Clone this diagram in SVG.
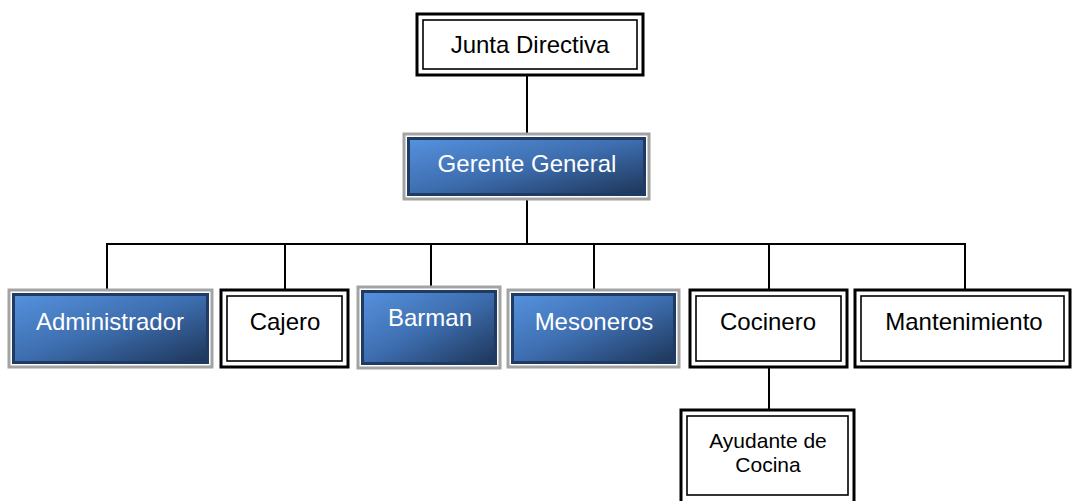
<svg xmlns="http://www.w3.org/2000/svg" width="1073" height="501" viewBox="0 0 1073 501">
<defs>
<linearGradient id="blue" x1="0" y1="0" x2="1" y2="1">
<stop offset="0" stop-color="#5692de"/>
<stop offset="0.5" stop-color="#3d6dae"/>
<stop offset="1" stop-color="#1d3558"/>
</linearGradient>
<style>
.out{fill:#fff;stroke:#000;stroke-width:3}
.in{fill:none;stroke:#000;stroke-width:1.6}
.gout{fill:#fff;stroke:#a3a3a3;stroke-width:3}
.gin{fill:url(#blue);stroke:#1f3a63;stroke-width:3}
.t{font-family:"Liberation Sans",Arial,sans-serif;font-size:24px;text-anchor:middle;fill:#000}
.w{fill:#fff}
.s{font-size:21px}
.c{stroke:#000;stroke-width:2;fill:none}
</style>
</defs>
<g id="connectors">
<line class="c" x1="527" y1="75" x2="527" y2="134"/>
<line class="c" x1="527" y1="199" x2="527" y2="244"/>
<line class="c" x1="106" y1="244" x2="966" y2="244"/>
<line class="c" x1="107" y1="243" x2="107" y2="290"/>
<line class="c" x1="285" y1="243" x2="285" y2="290"/>
<line class="c" x1="431" y1="243" x2="431" y2="288"/>
<line class="c" x1="594" y1="243" x2="594" y2="290"/>
<line class="c" x1="769" y1="243" x2="769" y2="290"/>
<line class="c" x1="965" y1="243" x2="965" y2="290"/>
<line class="c" x1="769" y1="367" x2="769" y2="410"/>
</g>
<g id="junta">
<rect class="out" x="417" y="14" width="226" height="61"/>
<rect class="in" x="423" y="20" width="214" height="49"/>
<text class="t" x="530" y="53">Junta Directiva</text>
</g>
<g id="gerente">
<rect class="gout" x="404" y="134" width="245" height="65"/>
<rect class="gin" x="408.5" y="138.5" width="236" height="56"/>
<text class="t w" x="527" y="172">Gerente General</text>
</g>
<g id="administrador">
<rect class="gout" x="9" y="290" width="203" height="77"/>
<rect class="gin" x="13.5" y="294.5" width="194" height="68"/>
<text class="t w" x="110" y="330">Administrador</text>
</g>
<g id="cajero">
<rect class="out" x="221" y="290" width="127" height="77"/>
<rect class="in" x="227" y="296" width="115" height="65"/>
<text class="t" x="285" y="330">Cajero</text>
</g>
<g id="barman">
<rect class="gout" x="358" y="287" width="142" height="81"/>
<rect class="gin" x="362.5" y="291.5" width="133" height="72"/>
<text class="t w" x="430" y="326">Barman</text>
</g>
<g id="mesoneros">
<rect class="gout" x="508" y="290" width="171" height="77"/>
<rect class="gin" x="512.5" y="294.5" width="162" height="68"/>
<text class="t w" x="594" y="330">Mesoneros</text>
</g>
<g id="cocinero">
<rect class="out" x="690" y="290" width="157" height="77"/>
<rect class="in" x="696" y="296" width="145" height="65"/>
<text class="t" x="768" y="330">Cocinero</text>
</g>
<g id="mantenimiento">
<rect class="out" x="855" y="290" width="215" height="77"/>
<rect class="in" x="861" y="296" width="203" height="65"/>
<text class="t" x="964" y="330">Mantenimiento</text>
</g>
<g id="ayudante">
<rect class="out" x="681" y="410" width="173" height="96"/>
<rect class="in" x="687" y="416" width="161" height="79"/>
<text class="t s" x="768" y="448">Ayudante de</text>
<text class="t s" x="768" y="472">Cocina</text>
</g>
</svg>
